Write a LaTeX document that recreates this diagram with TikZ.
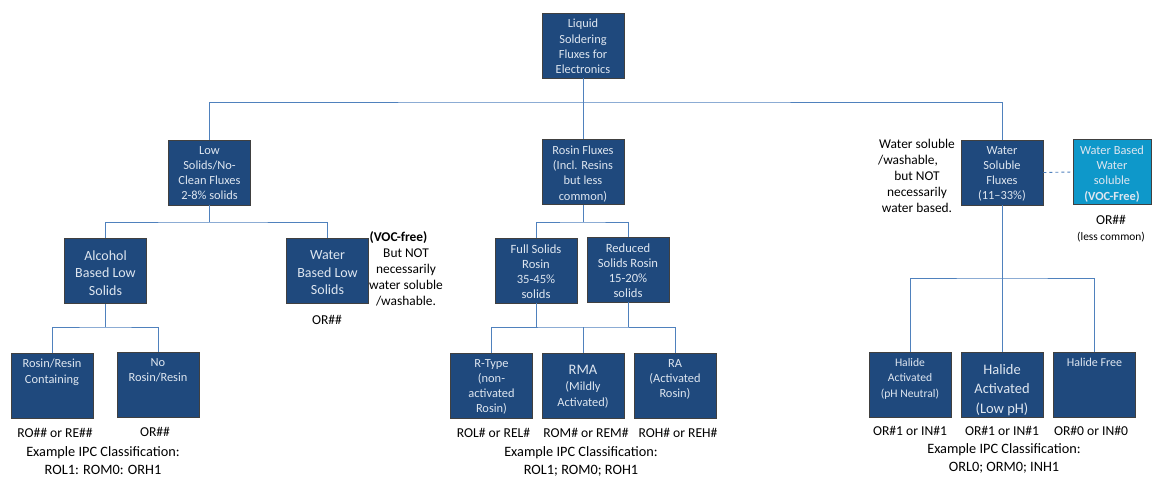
\documentclass[tikz,border=0pt]{standalone}
\usepackage{fontspec}
\setmainfont{Carlito}
\definecolor{dkblue}{RGB}{31,73,125}
\definecolor{ltblue}{RGB}{14,152,202}
\definecolor{lnblue}{RGB}{79,129,189}
\definecolor{boxtxt}{RGB}{222,230,240}
\newcommand\fs[2]{\fontsize{#1}{#2}\selectfont}
\tikzset{
  bx/.style={draw=black!75, line width=0.8pt, fill=dkblue, minimum width=82pt, minimum height=65pt, inner sep=0pt},
  bt/.style={anchor=north, text=boxtxt, align=center, inner sep=0pt, yshift=-6.5pt, font=\fs{12.4}{15.2}},
  ln/.style={draw=lnblue, line width=0.9pt},
  lb/.style={align=center, inner sep=0pt, font=\fs{13.6}{16}},
  ex/.style={align=center, inner sep=0pt, font=\fs{14.3}{18}},
}
\begin{document}
\begin{tikzpicture}[x=1pt,y=-1pt]
\useasboundingbox (0,0) rectangle (1152,477);
\fill[white] (0,0) rectangle (1152,477);

% boxes
\node[bx] (top) at (583,45.5) {};
\node[bx] (low) at (209.5,172.5) {};
\node[bx] (rosin) at (583,172) {};
\node[bx] (ws) at (1002,172.5) {};
\node[bx, fill=ltblue, minimum width=78pt] (wb) at (1112,172) {};
\node[bx] (alc) at (105.5,271) {};
\node[bx] (wbl) at (327.5,271) {};
\node[bx] (full) at (536,270.5) {};
\node[bx] (red) at (628,269.5) {};
\node[bx] (rrc) at (52,385.5) {};
\node[bx] (nrr) at (158,384.5) {};
\node[bx] (rt) at (491.5,385.5) {};
\node[bx] (rma) at (583,385.5) {};
\node[bx] (ra) at (675,385.5) {};
\node[bx] (ha1) at (910,384.5) {};
\node[bx] (ha2) at (1002,384.5) {};
\node[bx] (hf) at (1094.5,384.5) {};

% box texts
\node[bt] (top-t) at (top.north) {Liquid\\Soldering\\Fluxes for\\Electronics};
\node[bt] (low-t) at (low.north) {Low\\Solids/No-\\Clean Fluxes\\2-8\% solids};
\node[bt] (rosin-t) at (rosin.north) {Rosin Fluxes\\(Incl. Resins\\but less\\common)};
\node[bt] (ws-t) at (ws.north) {Water\\Soluble\\Fluxes\\(11--33\%)};
\node[bt] (wb-t) at (wb.north) {Water Based\\Water\\soluble\\\textbf{(VOC-Free)}};
\node[bt, font=\fs{14}{17.3}, yshift=-6pt] (alc-t) at (alc.north) {Alcohol\\Based Low\\Solids};
\node[bt, font=\fs{14}{17.3}, yshift=-6pt] (wbl-t) at (wbl.north) {Water\\Based Low\\Solids};
\node[bt, font=\fs{12.6}{15.3}] (full-t) at (full.north) {Full Solids\\Rosin\\35-45\%\\solids};
\node[bt, font=\fs{12.6}{15.3}] (red-t) at (red.north) {Reduced\\Solids Rosin\\15-20\%\\solids};
\node[bt] (rrc-t) at (rrc.north) {Rosin/Resin\\Containing};
\node[bt] (nrr-t) at (nrr.north) {No\\Rosin/Resin};
\node[bt] (rt-t) at (rt.north) {R-Type\\(non-\\activated\\Rosin)};
\node[bt, font=\fs{12.4}{16}, yshift=-6pt] (rma-t) at (rma.north) {{\fs{14.5}{16}RMA}\\(Mildly\\Activated)};
\node[bt] (ra-t) at (ra.north) {RA\\(Activated\\Rosin)};
\node[bt, font=\fs{11.6}{15.5}] (ha1-t) at (ha1.north) {Halide\\Activated\\(pH Neutral)};
\node[bt, font=\fs{14.5}{19.5}, yshift=-6pt] (ha2-t) at (ha2.north) {Halide\\Activated\\(Low pH)};
\node[bt, font=\fs{12}{15}] (hf-t) at (hf.north) {Halide Free};

% connectors
\coordinate (j0) at (583,102);
\draw[ln] (top.south) -- (rosin.north);
\draw[ln] (low.north) |- (j0) -| (ws.north);

\coordinate (j1) at (209.5,222);
\draw[ln] (low.south) -- (j1);
\draw[ln] (alc.north) |- (j1) -| (wbl.north);

\coordinate (j2) at (105.5,327);
\draw[ln] (alc.south) -- (j2);
\draw[ln] (rrc.north) |- (j2) -| (nrr.north);

\coordinate (j3) at (583,222);
\draw[ln] (rosin.south) -- (j3);
\draw[ln] (full.north) |- (j3) -| (red.north);

\coordinate (j4) at (583,327);
\draw[ln] (full.south) -- (full.south |- j4);
\draw[ln] (red.south) -- (red.south |- j4);
\draw[ln] (rt.north) |- (j4) -| (ra.north);
\draw[ln] (j4) -- (rma.north);

\coordinate (j5) at (1002,278);
\draw[ln] (ws.south) -- (ha2.north);
\draw[ln] (ha1.north) |- (j5) -| (hf.north);

\draw[ln, dashed] (ws.east) -- (wb.west);

% side notes
\node[lb, font=\fs{13.4}{16}, anchor=north] (voc) at (406,231) {\textbf{(VOC-free)}\kern15pt\\But NOT\\necessarily\\water soluble\\/washable.};
\node[lb, font=\fs{13.4}{16}, anchor=north] (wsn) at (917,139) {Water soluble\\/washable,\kern18pt\\but NOT\\necessarily\\water based.};
\node[lb] (wbl-c) at (327,320) {OR\#\#};
\node[lb] (wb-c) at (1111,220) {OR\#\#};
\node[lb, font=\fs{11.4}{13}] (wb-c2) at (1111,237) {(less common)};

% codes
\node[lb] (rrc-c) at (55,433) {RO\#\# or RE\#\#};
\node[lb] (nrr-c) at (155,432) {OR\#\#};
\node[ex] (ex1) at (103,461) {Example IPC Classification:\\ROL1: ROM0: ORH1};

\node[lb] (rt-c) at (493.5,433) {ROL\# or REL\#};
\node[lb] (rma-c) at (586,433) {ROM\# or REM\#};
\node[lb] (ra-c) at (678,433) {ROH\# or REH\#};
\node[ex] (ex2) at (581,461) {Example IPC Classification:\\ROL1; ROM0; ROH1};

\node[lb] (ha1-c) at (910,431) {OR\#1 or IN\#1};
\node[lb] (ha2-c) at (1002,431) {OR\#1 or IN\#1};
\node[lb] (hf-c) at (1091,431) {OR\#0 or IN\#0};
\node[ex] (ex3) at (1004,458) {Example IPC Classification:\\ORL0; ORM0; INH1};
\end{tikzpicture}
\end{document}
